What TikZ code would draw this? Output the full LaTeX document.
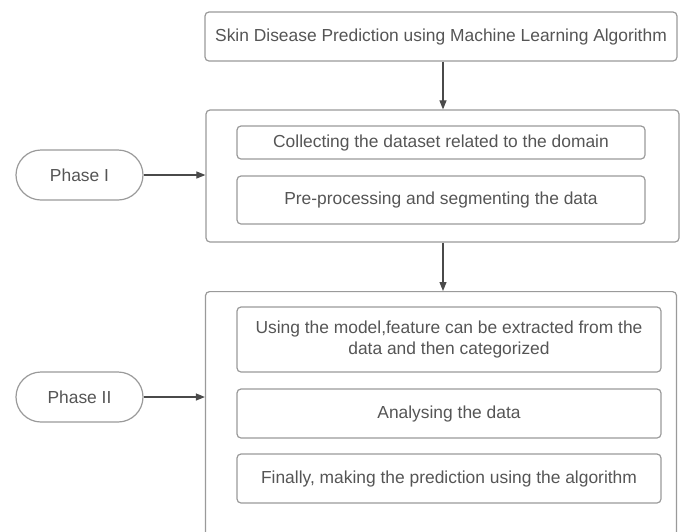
\documentclass[tikz,border=0pt]{standalone}
\usepackage{fontspec}
\setmainfont{Liberation Sans}
\usetikzlibrary{arrows.meta}
\definecolor{boxline}{HTML}{9A9A9A}
\definecolor{txt}{HTML}{555555}
\definecolor{arr}{HTML}{4A4A4A}
\tikzset{
  box/.style={draw=boxline, line width=1.2pt, rounded corners=4pt, inner sep=0pt, align=center, text=txt, font=\fontsize{17.4}{21.5}\selectfont},
  phase/.style={draw=boxline, line width=1.2pt, rounded corners=25pt, inner sep=0pt, minimum width=127pt, minimum height=50pt, text=txt, font=\fontsize{17.4}{21.5}\selectfont},
  conn/.style={draw=arr, line width=1.1pt, -{Triangle[length=9pt,width=7pt]}}
}
\begin{document}
\begin{tikzpicture}[x=1pt,y=-1pt]
\useasboundingbox (0,0) rectangle (681,531);
\clip (0,0) rectangle (681,531);
\node[box, minimum width=472pt, minimum height=49pt] (top) at (441,36.5) {Skin Disease Prediction using Machine Learning Algorithm};
\node[box, minimum width=473pt, minimum height=132pt] (b1) at (442.5,176) {};
\node[box, minimum width=408pt, minimum height=33pt] (c1) at (441,142.5) {Collecting the dataset related to the domain};
\node[box, minimum width=408pt, minimum height=48pt] (c2) at (441,200) {Pre-processing and segmenting the data};
\node[box, minimum width=471pt, minimum height=270pt, anchor=north] (b2) at (441,291) {};
\node[box, minimum width=424pt, minimum height=65pt] (d1) at (449,339.5) {Using the model,feature can be extracted from the\\data and then categorized};
\node[box, minimum width=424pt, minimum height=49pt] (d2) at (449,413.5) {Analysing the data};
\node[box, minimum width=424pt, minimum height=49pt] (d3) at (449,478.5) {Finally, making the prediction using the algorithm};
\node[phase] (p1) at (79.5,175) {Phase I};
\node[phase] (p2) at (79.5,397) {Phase II};
\draw[conn] (top.south -| 443,0) -- (b1.north -| 443,0);
\draw[conn] (b1.south -| 443,0) -- (b2.north -| 443,0);
\draw[conn] (p1.east) -- (p1.east -| b1.west);
\draw[conn] (p2.east) -- (p2.east -| b2.west);
\end{tikzpicture}
\end{document}
